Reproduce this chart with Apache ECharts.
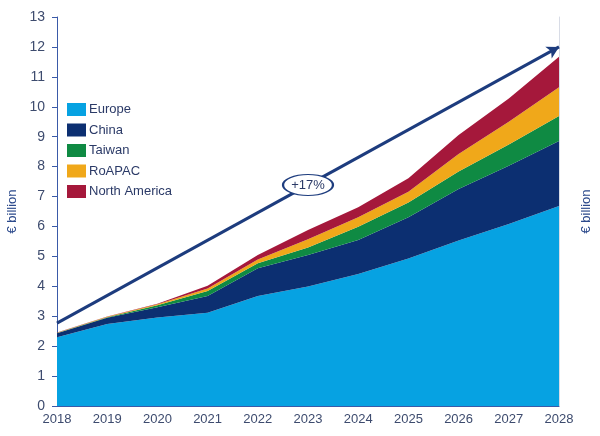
<!DOCTYPE html>
<html>
<head>
<meta charset="utf-8">
<script src="https://cdn.jsdelivr.net/npm/echarts@6/dist/echarts.min.js"></script>
<style>html,body{margin:0;padding:0;background:#fff}#c{width:600px;height:436px}</style>
</head>
<body>
<div id="c"></div>
<script>
var years = ['2018','2019','2020','2021','2022','2023','2024','2025','2026','2027','2028'];
var europe = [2.30, 2.74, 2.96, 3.12, 3.68, 3.99, 4.41, 4.93, 5.53, 6.08, 6.68];
var china = [0.13, 0.21, 0.34, 0.56, 0.92, 1.06, 1.14, 1.38, 1.72, 1.95, 2.18];
var taiwan = [0.01, 0.02, 0.07, 0.16, 0.17, 0.25, 0.44, 0.49, 0.59, 0.71, 0.83];
var roapac = [0.01, 0.01, 0.03, 0.09, 0.13, 0.27, 0.32, 0.36, 0.58, 0.76, 0.96];
var northAmerica = [0.01, 0.01, 0.02, 0.09, 0.15, 0.31, 0.33, 0.45, 0.64, 0.78, 1.02];
var trendStart = ['2018', 2.77];
var trendEnd = ['2028', 12.0];
var trendLabel = '+17%';
var yTicks = {min: 0, max: 13, interval: 1};

var navy = '#1d3c7e';
function area(name, data, color) {
  return {
    name: name, type: 'line', stack: 'total', data: data,
    symbol: 'none', smooth: false,
    lineStyle: {width: 0, color: color},
    itemStyle: {color: color},
    areaStyle: {color: color, opacity: 1}
  };
}
var chart = echarts.init(document.getElementById('c'));
chart.setOption({
  animation: false,
  grid: {left: 57, right: 41, top: 17, bottom: 30, containLabel: false, outerBoundsMode: 'none'},
  legend: {
    orient: 'vertical', left: 62, top: 98,
    itemWidth: 19, itemHeight: 13, itemGap: 7.5,
    icon: 'rect',
    data: ['Europe','China','Taiwan','RoAPAC','North America'],
    textStyle: {color: '#2b3a67', fontSize: 13, fontFamily: 'Liberation Sans, Arial, sans-serif', padding: [0,0,0,-2]}
  },
  xAxis: {
    type: 'category', data: years, boundaryGap: false,
    axisLine: {lineStyle: {color: '#3a5aa8', width: 1}},
    axisTick: {show: false},
    axisLabel: {color: '#3d4b6e', fontSize: 13, margin: 7, fontFamily: 'Liberation Sans, Arial, sans-serif'},
    splitLine: {show: false}
  },
  yAxis: [{
    type: 'value', min: yTicks.min, max: yTicks.max, interval: yTicks.interval,
    name: '€ billion', nameLocation: 'middle', nameRotate: 90, nameGap: 38,
    nameTextStyle: {color: '#2c4a8c', fontSize: 13, fontFamily: 'Liberation Sans, Arial, sans-serif'},
    axisLine: {show: true, lineStyle: {color: '#3a5aa8', width: 1}},
    axisTick: {show: true, length: 5, lineStyle: {color: '#3a5aa8'}},
    axisLabel: {color: '#3d4b6e', fontSize: 14, margin: 12, fontFamily: 'Liberation Sans, Arial, sans-serif'},
    splitLine: {show: false}
  }, {
    type: 'value', position: 'right', min: yTicks.min, max: yTicks.max, interval: yTicks.interval,
    name: '€ billion', nameLocation: 'middle', nameRotate: 90, nameGap: 21,
    nameTextStyle: {color: '#2c4a8c', fontSize: 13, fontFamily: 'Liberation Sans, Arial, sans-serif'},
    axisLine: {show: true, lineStyle: {color: '#d8dce6', width: 1}},
    axisTick: {show: false}, axisLabel: {show: false}, splitLine: {show: false}
  }],
  series: [
    area('Europe', europe, '#06a2e2'),
    area('China', china, '#0c2f71'),
    area('Taiwan', taiwan, '#0f8a43'),
    area('RoAPAC', roapac, '#f0a81a'),
    area('North America', northAmerica, '#a5183b'),
    {
      name: 'trend', type: 'line', data: years.map(function(){return null;}),
      symbol: 'none', z: 10,
      markLine: {
        silent: true, symbol: ['none', 'arrow'], symbolSize: [10, 12],
        lineStyle: {color: navy, width: 3, type: 'solid'},
        label: {show: false},
        data: [[{coord: trendStart}, {coord: trendEnd}]]
      },
      markPoint: {
        silent: true,
        data: [{
          coord: [years[5], (trendStart[1] + trendEnd[1]) / 2],
          symbol: 'circle', symbolSize: [50, 21],
          itemStyle: {color: '#ffffff', borderColor: navy, borderWidth: 1.5},
          label: {show: true, position: 'inside', formatter: trendLabel, color: '#2b3a67', fontSize: 13, fontFamily: 'Liberation Sans, Arial, sans-serif'}
        }]
      }
    }
  ]
});
</script>
</body>
</html>
